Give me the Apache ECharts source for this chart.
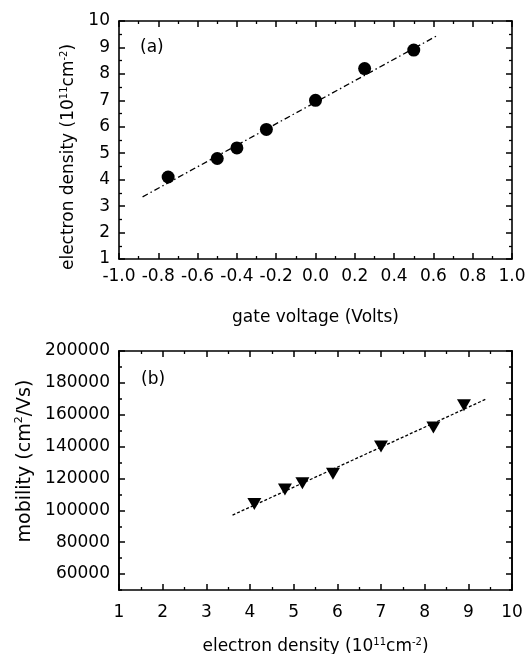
<!DOCTYPE html>
<html>
<head>
    <meta charset="utf-8">
    <title>electron density / mobility</title>
    <script src="https://cdn.jsdelivr.net/npm/echarts@6/dist/echarts.min.js"></script>
    <style>
        html, body { margin: 0; padding: 0; background: #fff; }
        #main { width: 527px; height: 654px; }
    </style>
</head>
<body>
    <div id="main"></div>

    <script type="text/javascript">
        // panel (a): density vs gate voltage
        var gateVoltage = [-0.75, -0.5, -0.4, -0.25, 0.0, 0.25, 0.5];
        var density = [4.1, 4.8, 5.2, 5.9, 7.0, 8.2, 8.9];
        var fitA = [[-0.88, 3.35], [0.62, 9.45]];

        // panel (b): mobility vs density
        var mobility = [104000, 113000, 117000, 123000, 140000, 152000, 166000];
        var fitB = [[3.6, 97000], [9.42, 170000]];
        var mobilityTicks = [60000, 80000, 100000, 120000, 140000, 160000, 180000, 200000];

        var font = 'DejaVu Sans, sans-serif';
        var black = '#000';

        var ptsA = [];
        for (var i = 0; i < gateVoltage.length; i++) {
            ptsA.push([gateVoltage[i], density[i]]);
        }
        var ptsB = [];
        for (var i = 0; i < density.length; i++) {
            ptsB.push([density[i], mobility[i]]);
        }

        var nameRich = {
            n: { fontSize: 17, fontFamily: font, color: black },
            s: { fontSize: 10, fontFamily: font, color: black, padding: [0, 0, 10, 0] }
        };
        // the mobility label is set a bit larger in the figure
        var bigRich = {
            n: { fontSize: 19, fontFamily: font, color: black },
            s: { fontSize: 11, fontFamily: font, color: black, padding: [0, 0, 11, 0] }
        };

        function axis(opts) {
            var a = {
                type: 'value',
                gridIndex: opts.grid,
                position: opts.position,
                min: opts.min,
                max: opts.max,
                interval: opts.interval,
                axisLine: { show: true, onZero: false, lineStyle: { color: black, width: 1.6 } },
                axisTick: { show: true, inside: true, length: 6, lineStyle: { color: black, width: 1.5 } },
                minorTick: { show: opts.minor !== false, splitNumber: 2, length: 3, lineStyle: { color: black, width: 1.3 } },
                splitLine: { show: false },
                minorSplitLine: { show: false },
                axisLabel: { show: false }
            };
            if (opts.labels) {
                a.axisLabel = {
                    show: true,
                    margin: opts.margin,
                    fontSize: 17,
                    fontFamily: font,
                    color: black,
                    formatter: opts.formatter
                };
            }
            return a;
        }

        var myChart = echarts.init(document.getElementById('main'));

        // x axes
        var xA = axis({ grid: 0, position: 'bottom', min: -1, max: 1, interval: 0.2, labels: true, margin: 9,
            formatter: function (v) { return v.toFixed(1); } });
        xA.name = 'gate voltage (Volts)';
        xA.nameLocation = 'middle';
        xA.nameGap = 50;
        xA.nameTextStyle = { fontSize: 17, fontFamily: font, color: black };
        var xAtop = axis({ grid: 0, position: 'top', min: -1, max: 1, interval: 0.2 });

        var xB = axis({ grid: 1, position: 'bottom', min: 1, max: 10, interval: 1, labels: true, margin: 14,
            formatter: function (v) { return String(v); } });
        xB.name = '{n|electron density (10}{s|11}{n|cm}{s|-2}{n|)}';
        xB.nameLocation = 'middle';
        xB.nameGap = 47;
        xB.nameTextStyle = { rich: nameRich };
        var xBtop = axis({ grid: 1, position: 'top', min: 1, max: 10, interval: 1 });

        // y axes
        var yA = axis({ grid: 0, position: 'left', min: 1, max: 10, interval: 1, labels: true, margin: 9,
            formatter: function (v) { return String(v); } });
        yA.name = '{n|electron density (10}{s|11}{n|cm}{s|-2}{n|)}';
        yA.nameLocation = 'middle';
        yA.nameRotate = 90;
        yA.nameGap = 37;
        yA.nameTextStyle = { rich: nameRich, padding: [0, 34, 0, 0] };
        var yAright = axis({ grid: 0, position: 'right', min: 1, max: 10, interval: 1 });

        // mobility axis: small ticks every 10000, long ticks + labels every 20000 from 60000
        var yB = axis({ grid: 1, position: 'left', min: 50000, max: 200000, interval: 10000, minor: false });
        yB.axisTick.length = 3;
        yB.axisLabel = {
            show: true, margin: 9, fontSize: 17, fontFamily: font, color: black,
            customValues: mobilityTicks,
            formatter: function (v) { return String(v); }
        };
        yB.name = '{n|mobility (cm}{s|2}{n|/Vs)}';
        yB.nameLocation = 'middle';
        yB.nameRotate = 90;
        yB.nameGap = 79;
        yB.nameTextStyle = { rich: bigRich, padding: [0, 0, 0, 19] };
        var yBmajor = axis({ grid: 1, position: 'left', min: 50000, max: 200000, interval: 10000, minor: false });
        yBmajor.axisTick.customValues = mobilityTicks;
        var yBright = axis({ grid: 1, position: 'right', min: 50000, max: 200000, interval: 10000, minor: false });
        yBright.axisTick.length = 3;
        var yBrightMajor = axis({ grid: 1, position: 'right', min: 50000, max: 200000, interval: 10000, minor: false });
        yBrightMajor.axisTick.customValues = mobilityTicks;

        var option = {
            animation: false,
            backgroundColor: '#fff',
            grid: [
                { left: 119, top: 21, width: 393, height: 238, containLabel: false, outerBoundsMode: 'none' },
                { left: 119, top: 351, width: 393, height: 239, containLabel: false, outerBoundsMode: 'none' }
            ],
            xAxis: [xA, xAtop, xB, xBtop],
            yAxis: [yA, yAright, yB, yBmajor, yBright, yBrightMajor],
            graphic: [
                { type: 'text', left: 140, top: 39, style: { text: '(a)', fontSize: 17, fontFamily: font, fill: black } },
                { type: 'text', left: 141, top: 371, style: { text: '(b)', fontSize: 17, fontFamily: font, fill: black } }
            ],
            series: [
                {
                    name: 'fit a',
                    type: 'line',
                    xAxisIndex: 0,
                    yAxisIndex: 0,
                    data: fitA,
                    showSymbol: false,
                    symbol: 'none',
                    lineStyle: { color: black, width: 1.3, type: [6, 3, 1.5, 3] },
                    z: 2
                },
                {
                    name: 'density',
                    type: 'scatter',
                    xAxisIndex: 0,
                    yAxisIndex: 0,
                    data: ptsA,
                    symbol: 'circle',
                    symbolSize: 13,
                    itemStyle: { color: black, opacity: 1 },
                    z: 3
                },
                {
                    name: 'fit b',
                    type: 'line',
                    xAxisIndex: 2,
                    yAxisIndex: 2,
                    data: fitB,
                    showSymbol: false,
                    symbol: 'none',
                    lineStyle: { color: black, width: 1.3, type: [3, 2] },
                    z: 2
                },
                {
                    name: 'mobility',
                    type: 'scatter',
                    xAxisIndex: 2,
                    yAxisIndex: 2,
                    data: ptsB,
                    symbol: 'triangle',
                    symbolRotate: 180,
                    symbolSize: [14, 12],
                    itemStyle: { color: black, opacity: 1 },
                    z: 3
                }
            ]
        };

        myChart.setOption(option);
    </script>
</body>
</html>
